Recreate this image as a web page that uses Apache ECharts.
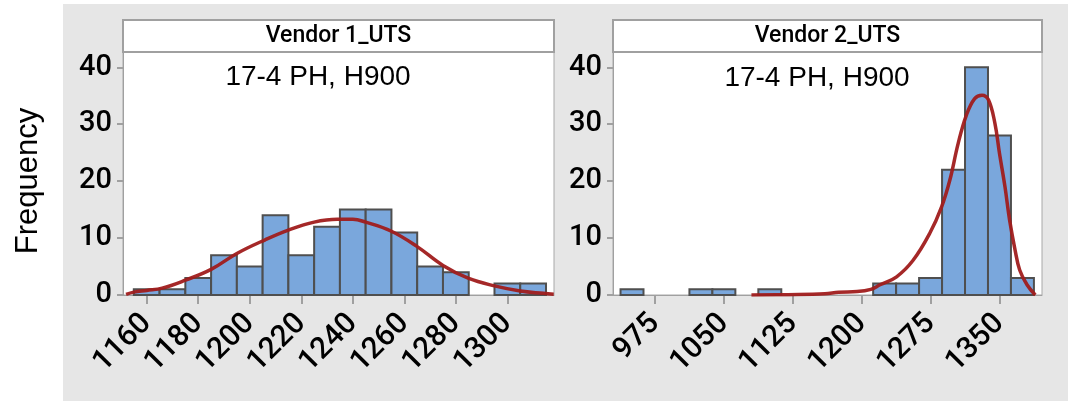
<!DOCTYPE html>
<html>
<head>
<meta charset="utf-8">
<script src="https://cdn.jsdelivr.net/npm/echarts@6/dist/echarts.min.js"></script>
<style>
html,body{margin:0;padding:0;background:#ffffff;}
#chart{width:1068px;height:401px;}
</style>
</head>
<body>
<div id="chart"></div>
<script>
// ---- Data ----
const panelTitles = ['Vendor 1_UTS', 'Vendor 2_UTS'];
const annotation = '17-4 PH, H900';
const yAxisName = 'Frequency';
const yTicks = [0, 10, 20, 30, 40];

// Vendor 1 histogram (bin centres, counts), bin width 10
const v1BinWidth = 10;
const v1Centers = [1160, 1170, 1180, 1190, 1200, 1210, 1220, 1230, 1240, 1250, 1260, 1270, 1280, 1290, 1300, 1310];
const v1Counts  = [1, 1, 3, 7, 5, 14, 7, 12, 15, 15, 11, 5, 4, 0, 2, 2];
const v1TickLabels = [1160, 1180, 1200, 1220, 1240, 1260, 1280, 1300];
const v1CurveX = [1152, 1155, 1160, 1166, 1175, 1185, 1195, 1206, 1215, 1225, 1234, 1240, 1245, 1255, 1265, 1275, 1285, 1295, 1305, 1314, 1318];
const v1CurveY = [0.1, 0.5, 0.8, 1.2, 2.6, 4.5, 7.3, 9.7, 11.4, 12.8, 13.3, 13.3, 12.8, 11.2, 8.5, 5.2, 2.9, 1.6, 0.7, 0.3, 0.15];

// Vendor 2 histogram (bin centres, counts), bin width 25
const v2BinWidth = 25;
const v2Centers = [950, 975, 1000, 1025, 1050, 1075, 1100, 1125, 1150, 1175, 1200, 1225, 1250, 1275, 1300, 1325, 1350, 1375];
const v2Counts  = [1, 0, 0, 1, 1, 0, 1, 0, 0, 0, 0, 2, 2, 3, 22, 40, 28, 3];
const v2TickLabels = [975, 1050, 1125, 1200, 1275, 1350];
const v2CurveX = [1080, 1120, 1160, 1175, 1195, 1210, 1220, 1238, 1256, 1274, 1287, 1296, 1305, 1314, 1323, 1331, 1338, 1345, 1350, 1356, 1361, 1367, 1372, 1380, 1389];
const v2CurveY = [0, 0.05, 0.2, 0.5, 0.6, 1.0, 1.8, 3.2, 6.1, 10.8, 15.5, 20.2, 26.6, 31.6, 34.5, 35.1, 34.3, 30.2, 24.9, 19.0, 13.2, 7.9, 4.4, 1.8, 0];

// ---- Layout / style ----
const FONT = '"Liberation Sans", Arial, sans-serif';
const TICKFONT = 'Roboto, "Liberation Sans", sans-serif';
const grids = [
  {left: 123, top: 52, width: 431, height: 243},
  {left: 613, top: 52, width: 429, height: 243}
];
const xRanges = [[1150.8, 1318.1], [929.3, 1396.3]];
const yMax = 42.69;
const barFill = '#7aa7dc';
const barStroke = '#4f4f4f';
const curveColor = '#a01c1c';

function histItem(binWidth) {
  return function (params, api) {
    const c = api.value(0), n = api.value(1);
    if (!(n > 0)) return null;
    const p0 = api.coord([c - binWidth / 2, n]);
    const p1 = api.coord([c + binWidth / 2, 0]);
    return {
      type: 'rect',
      shape: {x: p0[0], y: p0[1], width: p1[0] - p0[0], height: p1[1] - p0[1]},
      style: {fill: barFill, stroke: barStroke, lineWidth: 2}
    };
  };
}

const plain = v => String(v);

function xAxisFor(i, ticks) {
  return {
    type: 'value', gridIndex: i, min: xRanges[i][0], max: xRanges[i][1],
    splitLine: {show: false},
    axisLine: {show: true, onZero: false, lineStyle: {color: '#a0a0a0', width: 1}},
    axisTick: {show: true, length: 9, customValues: ticks, lineStyle: {color: '#a0a0a0', width: 2}},
    axisLabel: {show: true, customValues: ticks, rotate: 45, margin: 24, formatter: plain,
      fontFamily: TICKFONT, fontWeight: 500, fontSize: 30, color: '#000'}
  };
}
function yAxisFor(i) {
  return {
    type: 'value', gridIndex: i, min: 0, max: yMax,
    splitLine: {show: false},
    axisLine: {show: true, lineStyle: {color: '#a0a0a0', width: 1}},
    axisTick: {show: true, length: 6, customValues: yTicks, lineStyle: {color: '#a0a0a0', width: 2}},
    axisLabel: {show: true, customValues: yTicks, margin: 11, formatter: plain,
      fontFamily: TICKFONT, fontWeight: 500, fontSize: 29, color: '#000'}
  };
}

const zip = (a, b) => a.map((v, i) => [v, b[i]]);

const graphics = [
  {type: 'rect', z: -10, shape: {x: 63, y: 4, width: 1005, height: 397}, style: {fill: '#e6e6e6'}}
];
grids.forEach((g, i) => {
  graphics.push({type: 'rect', z: 10, shape: {x: g.left, y: 20, width: g.width, height: 32},
    style: {fill: '#ffffff', stroke: '#a0a0a0', lineWidth: 2}});
  graphics.push({type: 'text', z: 11, x: g.left + g.width / 2, y: 36,
    style: {text: panelTitles[i], font: '500 23px Roboto, sans-serif', fill: '#000',
      textAlign: 'center', textVerticalAlign: 'middle'}});
});
graphics.push({type: 'text', z: 11, x: 318, y: 77,
  style: {text: annotation, font: '28px ' + FONT, fill: '#000', textAlign: 'center', textVerticalAlign: 'middle'}});
graphics.push({type: 'text', z: 11, x: 817, y: 78,
  style: {text: annotation, font: '28px ' + FONT, fill: '#000', textAlign: 'center', textVerticalAlign: 'middle'}});
graphics.push({type: 'text', z: 11, x: 28, y: 181, rotation: Math.PI / 2,
  style: {text: yAxisName, font: '31px ' + FONT, fill: '#000', textAlign: 'center', textVerticalAlign: 'middle'}});

const chart = echarts.init(document.getElementById('chart'), null, {renderer: 'canvas'});
chart.setOption({
  animation: false,
  backgroundColor: '#ffffff',
  grid: grids.map(g => Object.assign({show: true, backgroundColor: '#ffffff', borderColor: '#a8a8a8', borderWidth: 1}, g)),
  xAxis: [xAxisFor(0, v1TickLabels), xAxisFor(1, v2TickLabels)],
  yAxis: [yAxisFor(0), yAxisFor(1)],
  graphic: graphics,
  series: [
    {type: 'custom', xAxisIndex: 0, yAxisIndex: 0, renderItem: histItem(v1BinWidth),
      encode: {x: 0, y: 1}, data: zip(v1Centers, v1Counts), z: 2},
    {type: 'custom', xAxisIndex: 1, yAxisIndex: 1, renderItem: histItem(v2BinWidth),
      encode: {x: 0, y: 1}, data: zip(v2Centers, v2Counts), z: 2},
    {type: 'line', xAxisIndex: 0, yAxisIndex: 0, data: zip(v1CurveX, v1CurveY), smooth: 0.4,
      showSymbol: false, symbol: 'none', lineStyle: {color: curveColor, width: 3.5, opacity: 0.95}, z: 3},
    {type: 'line', xAxisIndex: 1, yAxisIndex: 1, data: zip(v2CurveX, v2CurveY), smooth: 0.4,
      showSymbol: false, symbol: 'none', lineStyle: {color: curveColor, width: 3.5, opacity: 0.95}, z: 3}
  ]
});
</script>
</body>
</html>
